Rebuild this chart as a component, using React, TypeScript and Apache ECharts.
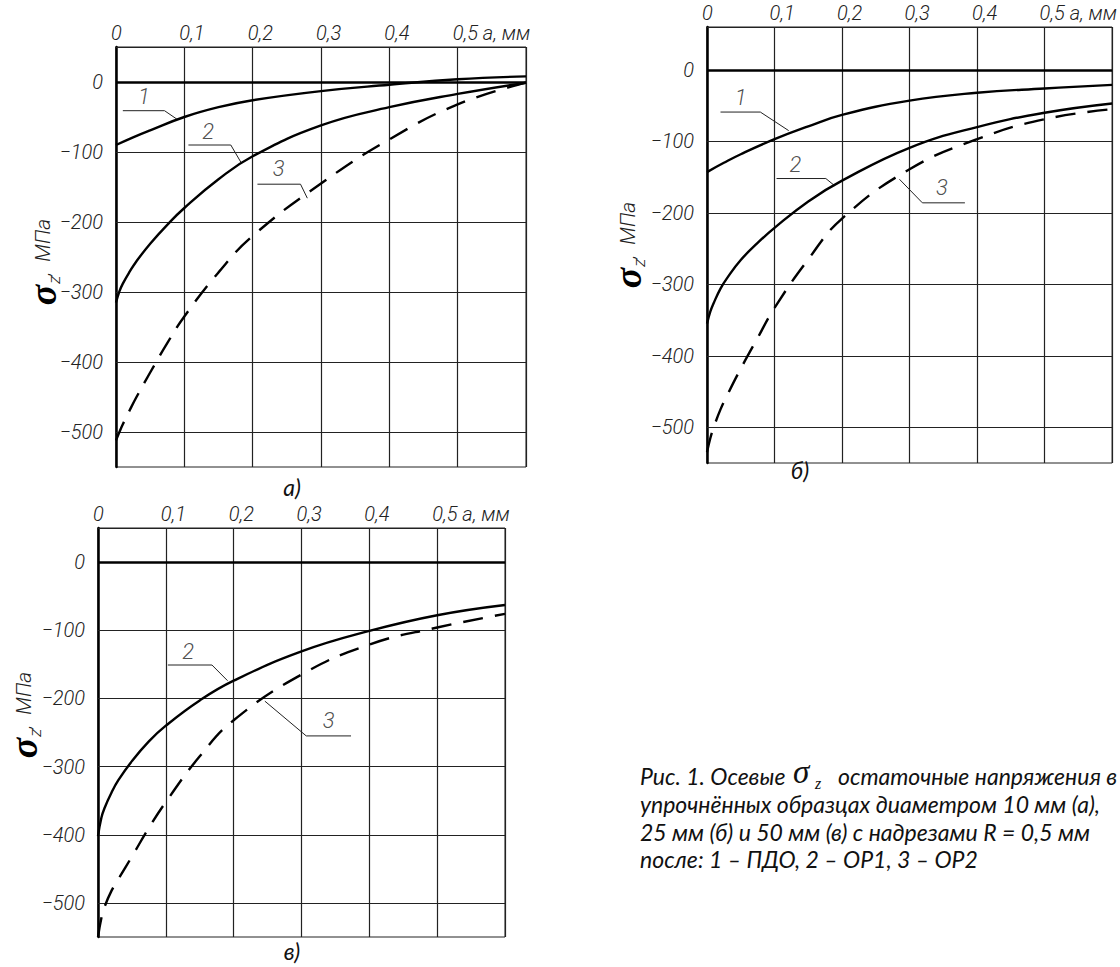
import React, { useEffect, useRef } from "react";
import * as echarts from "echarts";

// ---------- tick labels ----------
const xTicks = [0, 0.1, 0.2, 0.3, 0.4, 0.5, 0.6];
const xTickLabels = ["0", "0,1", "0,2", "0,3", "0,4", "0,5 а, мм", ""];
const yTickValues = [0, -100, -200, -300, -400, -500];
const yTickLabels = ["0", "−100", "−200", "−300", "−400", "−500"];

// ---------- panel а) ----------
const depthA1 = [0, 0.025, 0.05, 0.1, 0.15, 0.2, 0.3, 0.4, 0.5, 0.6];
const a1 = [-90, -79, -69, -50, -36, -26, -13, -4, 4, 8];
const depthA = [0, 0.005, 0.01, 0.02, 0.03, 0.05, 0.075, 0.1, 0.15, 0.2, 0.3, 0.4, 0.5, 0.6];
const a2 = [-315, -299, -288, -271, -256, -231, -204, -180, -139, -106, -62, -36, -17, -1];
const a3 = [-512, -500, -489, -469, -450, -415, -373, -335, -272, -220, -145, -82, -32, -1];
const leadA1 = [[0.01, -41], [0.071, -41], [0.089, -53]];
const leadA2 = [[0.106, -90], [0.168, -90], [0.183, -115]];
const leadA3 = [[0.207, -146], [0.27, -146], [0.28, -166]];
const numA = [[0.041, -20, "1"], [0.135, -70, "2"], [0.238, -124, "3"]];

// ---------- panel б) ----------
const depthB1 = [0, 0.025, 0.05, 0.1, 0.15, 0.2, 0.3, 0.4, 0.5, 0.6];
const b1 = [-143, -130, -118, -97, -79, -63, -43, -32, -26, -21];
const depthB = [0, 0.005, 0.01, 0.02, 0.03, 0.05, 0.075, 0.1, 0.15, 0.2, 0.3, 0.4, 0.5, 0.6];
const b2 = [-355, -338, -326, -306, -291, -266, -242, -221, -184, -155, -109, -80, -60, -47];
const b3 = [-535, -515, -500, -475, -455, -418, -375, -333, -265, -208, -139, -97, -69, -55];
const leadB1 = [[0.02, -59], [0.079, -59], [0.121, -85]];
const leadB2 = [[0.103, -152], [0.176, -152], [0.189, -162]];
const leadB3 = [[0.285, -153], [0.319, -186], [0.382, -186]];
const numB = [[0.05, -38, "1"], [0.131, -132, "2"], [0.348, -164, "3"]];

// ---------- panel в) ----------
const depthC = [0, 0.005, 0.01, 0.02, 0.03, 0.05, 0.075, 0.1, 0.15, 0.2, 0.3, 0.4, 0.5, 0.6];
const c2 = [-402, -375, -360, -338, -320, -292, -263, -240, -203, -174, -131, -101, -78, -63];
const c3 = [-550, -522, -505, -482, -465, -432, -390, -352, -285, -232, -165, -121, -96, -76];
const leadC2 = [[0.103, -151], [0.168, -151], [0.191, -174]];
const leadC3 = [[0.246, -204], [0.307, -255], [0.373, -255]];
const numC = [[0.133, -131, "2"], [0.34, -233, "3"]];

const captionHead = "Рис. 1. Осевые";
const captionSigma = "σ";
const captionSub = "z";
const captionTail = "остаточные напряжения в";
const captionLines = [
  "упрочнённых образцах диаметром 10 мм (а),",
  "25 мм (б) и 50 мм (в) с надрезами R = 0,5 мм",
  "после: 1 – ПДО, 2 – ОР1, 3 – ОР2",
];

const GOST = "Roboto, 'Noto Sans', sans-serif";
const CAP = "Lato, 'Open Sans', sans-serif";
const SERIF = "'Liberation Serif', 'DejaVu Serif', serif";

type Curve = { depth: number[]; vals: number[]; dashed: boolean };
type Panel = {
  rect: { left: number; top: number; width: number; height: number };
  yMax: number;
  curves: Curve[];
  leads: number[][][];
  nums: any[][];
};

const panels: Panel[] = [
  {
    rect: { left: 116, top: 47, width: 410, height: 420 },
    yMax: 50,
    curves: [
      { depth: depthA1, vals: a1, dashed: false },
      { depth: depthA, vals: a2, dashed: false },
      { depth: depthA, vals: a3, dashed: true },
    ],
    leads: [leadA1, leadA2, leadA3],
    nums: numA,
  },
  {
    rect: { left: 707, top: 27, width: 411, height: 436 },
    yMax: 60,
    curves: [
      { depth: depthB1, vals: b1, dashed: false },
      { depth: depthB, vals: b2, dashed: false },
      { depth: depthB, vals: b3, dashed: true },
    ],
    leads: [leadB1, leadB2, leadB3],
    nums: numB,
  },
  {
    rect: { left: 98, top: 528, width: 407, height: 409 },
    yMax: 50,
    curves: [
      { depth: depthC, vals: c2, dashed: false },
      { depth: depthC, vals: c3, dashed: true },
    ],
    leads: [leadC2, leadC3],
    nums: numC,
  },
];

const tickFont = {
  fontFamily: GOST,
  fontStyle: "italic",
  fontWeight: 300,
  fontSize: 20,
  color: "#222",
};

function buildOption() {
  const grid: any[] = [];
  const xAxis: any[] = [];
  const yAxis: any[] = [];
  const series: any[] = [];

  panels.forEach((p, i) => {
    grid.push({
      ...p.rect,
      show: true,
      borderColor: "#222",
      borderWidth: 1,
      backgroundColor: "transparent",
    });
    xAxis.push({
      gridIndex: i,
      type: "value",
      min: 0,
      max: 0.6,
      interval: 0.1,
      position: "top",
      axisLine: { show: true, onZero: false, lineStyle: { color: "#222", width: 1 } },
      axisTick: { show: false },
      splitLine: { show: true, lineStyle: { color: "#222", width: 1.2 } },
      axisLabel: {
        margin: 4,
        align: "center",
        formatter: (v: number) => {
          const k = xTicks.findIndex((t) => Math.abs(t - v) < 1e-6);
          const s = k >= 0 ? xTickLabels[k] : "";
          return s ? "{t|" + s + "}" : "";
        },
        rich: {
          t: {
            ...tickFont,
            width: 100,
            align: "left",
            padding: [0, 0, 0, 90],
          },
        },
      },
    });
    yAxis.push({
      gridIndex: i,
      type: "value",
      min: -550,
      max: p.yMax,
      interval: 50,
      axisLine: { show: true, onZero: false, lineStyle: { color: "#000", width: 2.5 } },
      axisTick: { show: false },
      splitLine: { show: false },
      axisLabel: {
        margin: 13,
        ...tickFont,
        formatter: (v: number) => {
          const k = yTickValues.indexOf(Math.round(v));
          return k >= 0 ? yTickLabels[k] : "";
        },
      },
    });

    p.curves.forEach((c, j) => {
      const s: any = {
        type: "line",
        xAxisIndex: i,
        yAxisIndex: i,
        data: c.depth.map((d, k) => [d, c.vals[k]]),
        smooth: 0.45,
        symbol: "none",
        showSymbol: false,
        silent: true,
        z: 5,
        lineStyle: {
          color: "#000",
          width: 2.4,
          type: c.dashed ? [20, 12] : "solid",
        },
      };
      if (j === 0) {
        s.markLine = {
          silent: true,
          symbol: ["none", "none"],
          label: { show: false },
          z: 1,
          lineStyle: { color: "#222", width: 1.2, type: "solid" },
          data: yTickValues.map((v) =>
            v === 0
              ? { yAxis: v, lineStyle: { color: "#000", width: 2.6, type: "solid" } }
              : { yAxis: v }
          ),
        };
      }
      series.push(s);
    });

    p.leads.forEach((l) => {
      series.push({
        type: "line",
        xAxisIndex: i,
        yAxisIndex: i,
        data: l,
        symbol: "none",
        silent: true,
        lineStyle: { color: "#222", width: 1 },
      });
    });

    series.push({
      type: "scatter",
      xAxisIndex: i,
      yAxisIndex: i,
      symbolSize: 0,
      silent: true,
      data: p.nums.map((n) => ({ value: [n[0], n[1]], name: n[2] })),
      label: {
        show: true,
        position: "inside",
        formatter: (d: any) => d.name,
        ...tickFont,
        fontSize: 22,
      },
    });
  });

  const axisName = (x: number, y: number) => ({
    type: "text",
    x,
    y,
    rotation: Math.PI / 2,
    style: {
      text: "{s|σ}{z|z}{u|,  МПа}",
      align: "center",
      verticalAlign: "middle",
      rich: {
        s: { fontFamily: SERIF, fontStyle: "italic", fontWeight: "bold", fontSize: 38, fill: "#000" },
        z: { fontFamily: GOST, fontStyle: "italic", fontWeight: 300, fontSize: 17, fill: "#222", verticalAlign: "bottom", padding: [14, 0, 0, 1] },
        u: { fontFamily: GOST, fontStyle: "italic", fontWeight: 300, fontSize: 21, fill: "#222" },
      },
    },
  });

  const letter = (x: number, y: number, t: string) => ({
    type: "text",
    x,
    y,
    style: {
      text: t,
      fontFamily: CAP,
      fontStyle: "italic",
      fontSize: 23,
      fill: "#111",
      align: "center",
      verticalAlign: "middle",
    },
  });

  const capStyle = { fontFamily: CAP, fontStyle: "italic", fontSize: 23, fill: "#111" };
  const capText = (x: number, y: number, t: string, extra: any = {}) => ({
    type: "text",
    x,
    y,
    style: { text: t, align: "left", verticalAlign: "middle", ...capStyle, ...extra },
  });

  const graphic: any[] = [
    axisName(43, 262),
    axisName(628, 245),
    axisName(24, 715),
    letter(292, 487, "а)"),
    letter(800, 470, "б)"),
    letter(292, 951, "в)"),
    capText(640, 776, captionHead),
    capText(793, 772, captionSigma, { fontFamily: SERIF, fontSize: 33 }),
    capText(815, 783, captionSub, { fontFamily: SERIF, fontSize: 16 }),
    capText(838, 776, captionTail),
    ...captionLines.map((t, k) => capText(640, 804 + k * 27.5, t)),
  ];

  return {
    animation: false,
    backgroundColor: "#fff",
    grid,
    xAxis,
    yAxis,
    series,
    graphic,
  };
}

export default function App() {
  const ref = useRef<HTMLDivElement>(null);
  useEffect(() => {
    if (!ref.current) return;
    const chart = echarts.init(ref.current, undefined, { renderer: "svg" });
    chart.setOption(buildOption() as any);
    return () => chart.dispose();
  }, []);
  return (
    <div
      ref={ref}
      style={{ position: "absolute", left: 0, top: 0, width: 1120, height: 967, background: "#fff" }}
    />
  );
}
